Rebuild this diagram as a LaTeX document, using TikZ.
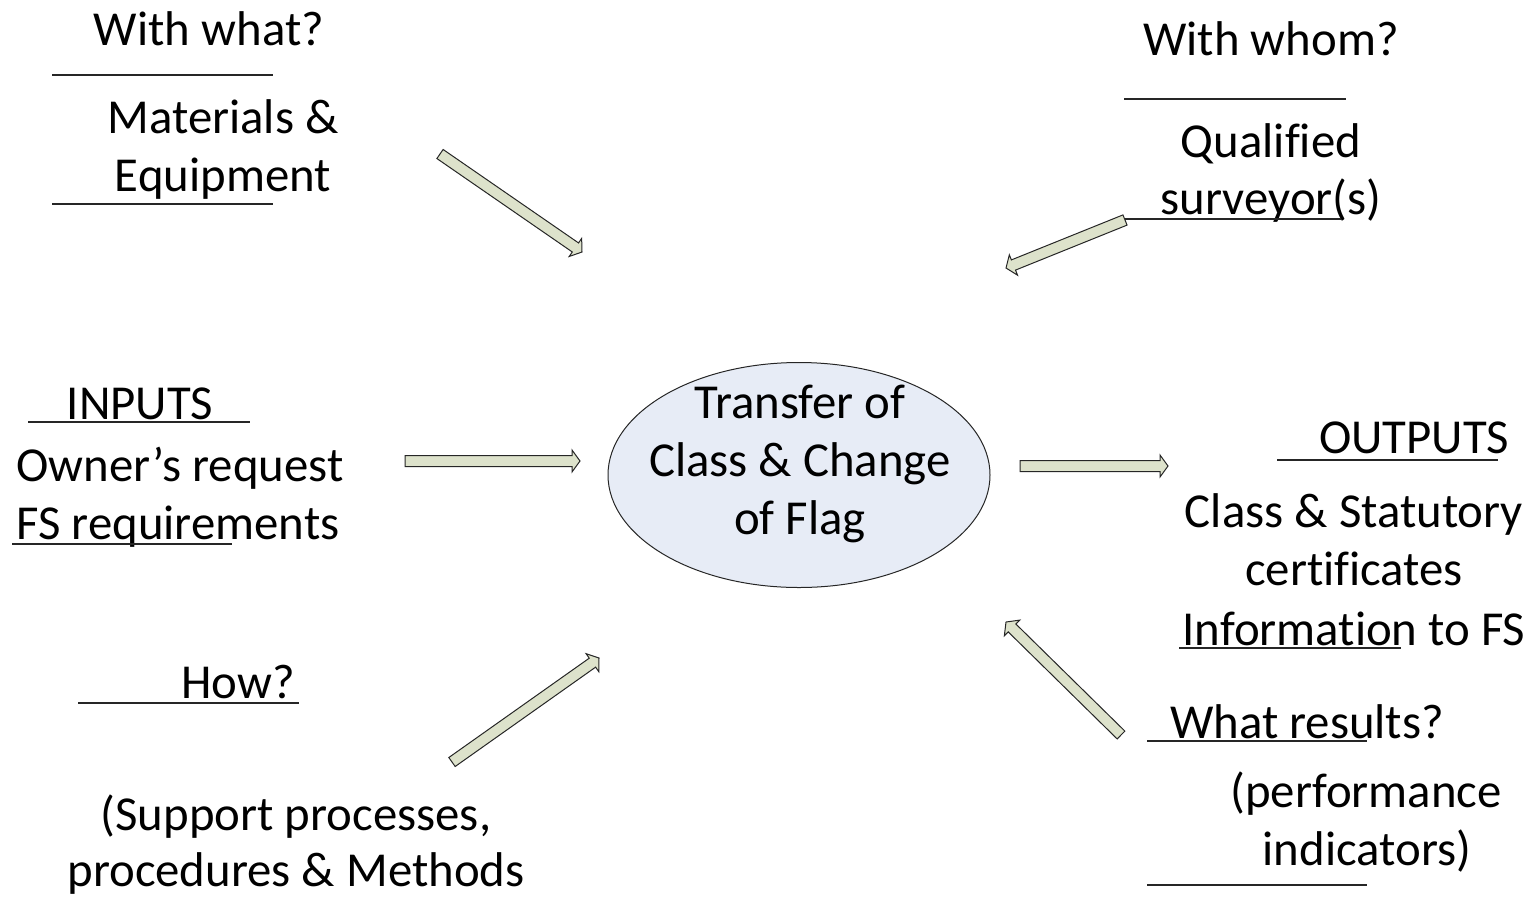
\documentclass[tikz,border=0pt]{standalone}
\usepackage{fontspec}
\setmainfont{Carlito}[Ligatures=NoCommon]
\usetikzlibrary{calc,shapes.geometric}

\definecolor{corefill}{RGB}{231,236,246}
\definecolor{arrowfill}{RGB}{221,226,203}

\tikzset{
  lbl/.style={anchor=base, inner sep=0pt, font=\fontsize{24.4}{29}\selectfont},
  rule/.style={draw=black!85, line width=0.8pt},
  core/.style={ellipse, draw=black!85, fill=corefill, line width=0.5pt,
    minimum width=191pt, minimum height=112.5pt, inner sep=0pt},
  fat/.style={draw=black!85, fill=arrowfill, line width=0.5pt, line join=miter},
}

% block arrow from #1 (tail) to #2 (tip)
\newcommand{\fatarrow}[2]{%
  \draw[fat] let \p1=($(#2)-(#1)$), \n1={atan2(\y1,\x1)}, \n2={veclen(\x1,\y1)-4pt} in
    ($(#1)+(\n1+90:2.75pt)$) -- ++(\n1:\n2) -- ++(\n1+90:2.75pt) -- (#2)
    -- ($(#1)+(\n1:\n2)+(\n1-90:5.5pt)$) -- ++(\n1+90:2.75pt) -- ++(\n1+180:\n2) -- cycle;}

\begin{document}
\begin{tikzpicture}[x=0.5pt, y=-0.5pt]
\useasboundingbox (0,0) rectangle (1535,911);

\node[core] (core) at (799,475) {};
\node[lbl] (coreA) at (800,418) {Transfer of};
\node[lbl] (coreB) at (800,476) {Class \& Change};
\node[lbl] (coreC) at (800,534) {of Flag};

% top left
\node[lbl] (whatQ) at (209,45) {With what?};
\node[lbl] (matA) at (223,133) {Materials \&};
\node[lbl] (matB) at (223,191) {Equipment};
\draw[rule] (52,75) -- (273,75);
\draw[rule] (52,204) -- (273,204);

% top right
\node[lbl] (whomQ) at (1271,55) {With whom?};
\node[lbl] (survA) at (1271,157) {Qualified};
\node[lbl] (survB) at (1271,214) {surveyor(s)};
\draw[rule] (1124,99) -- (1346,99);
\draw[rule] (1125,219) -- (1341,219);

% inputs
\node[lbl] (inQ) at (140,419) {INPUTS};
\node[lbl] (inA) at (180,481) {Owner’s request};
\node[lbl] (inB) at (178,539) {FS requirements};
\draw[rule] (28,422) -- (250,422);
\draw[rule] (12,544) -- (232,544);

% outputs
\node[lbl] (outQ) at (1414,453) {OUTPUTS};
\node[lbl] (outA) at (1354,527) {Class \& Statutory};
\node[lbl] (outB) at (1354,585) {certificates};
\node[lbl] (outC) at (1354,645) {Information to FS};
\draw[rule] (1277,460) -- (1498,460);
\draw[rule] (1179,648) -- (1401,648);

% bottom left
\node[lbl] (howQ) at (238,698) {How?};
\node[lbl] (howA) at (296,830) {(Support processes,};
\node[lbl] (howB) at (296,886) {procedures \& Methods};
\draw[rule] (78,703) -- (299,703);

% bottom right
\node[lbl] (resQ) at (1307,738) {What results?};
\node[lbl] (resA) at (1366,807) {(performance};
\node[lbl] (resB) at (1367,865) {indicators)};
\draw[rule] (1147,741) -- (1367,741);
\draw[rule] (1147,885) -- (1367,885);

% arrows
\coordinate (matT) at (440,154);   \coordinate (matH) at (582,252);
\coordinate (survT) at (1125,220); \coordinate (survH) at (1006,268);
\coordinate (inT) at (405,461);    \coordinate (inH) at (580,461);
\coordinate (outT) at (1020,466);  \coordinate (outH) at (1168,466);
\coordinate (howT) at (452,762);   \coordinate (howH) at (599,658);
\coordinate (resT) at (1121,735);  \coordinate (resH) at (1006,622);

\fatarrow{matT}{matH}
\fatarrow{survT}{survH}
\fatarrow{inT}{inH}
\fatarrow{outT}{outH}
\fatarrow{howT}{howH}
\fatarrow{resT}{resH}

\end{tikzpicture}
\end{document}
